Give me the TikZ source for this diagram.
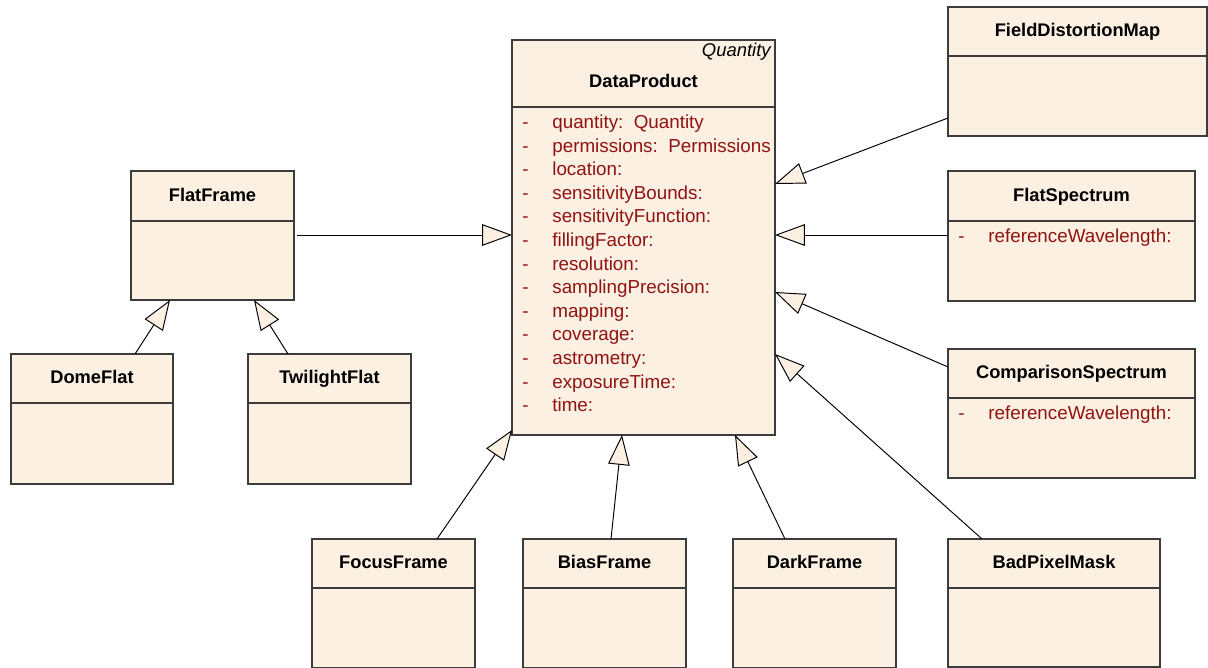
\documentclass[tikz,border=0pt]{standalone}
\usepackage{fontspec}
\setmainfont{Liberation Sans}
\usetikzlibrary{arrows.meta,calc}
\definecolor{classFill}{RGB}{251,240,226}
\definecolor{classBorder}{RGB}{60,60,60}
\definecolor{attrColor}{RGB}{145,18,18}
\newcommand{\pxUnit}{0.02cm}
\tikzstyle{diagram} = [x = 0.02cm, y = -0.02cm]
\tikzstyle{classBox} = [draw=classBorder, fill=classFill, line width=0.7pt, inner sep=0pt, outer sep=0pt, anchor=north west]
\tikzstyle{classLine} = [draw=classBorder, line width=0.7pt]
\tikzstyle{classTitle} = [font=\fontsize{10.4}{12}\selectfont\bfseries, anchor=base, inner sep=0pt]
\tikzstyle{attrText} = [font=\fontsize{10.7}{12}\selectfont, text=attrColor, anchor=base west, inner sep=0pt]
\tikzstyle{stereoText} = [font=\fontsize{10.5}{12}\selectfont\itshape, anchor=base east, inner sep=0pt]
\tikzstyle{generalization} = [line width=0.55pt, -{Triangle[length=17pt, width=12.3pt, fill=classFill, line width=0.55pt]}]
\newcommand{\umlClass}[7]{
  \node [classBox, minimum width={#4*\pxUnit}, minimum height={#5*\pxUnit}] (#1) at (#2,#3) {};
  \draw [classLine] ($(#1.north west)+(0,#6)$) -- ($(#1.north east)+(0,#6)$);
  \node [classTitle] (#1Title) at ($(#1.north)+(0,#6-19.5)$) {#7};
}
\newcommand{\attrList}[3]{
  \foreach \attr [count=\i] in {#3} {
    \node [attrText] (#1Dash\i) at ($(#1.north west)+(10,#2+21.5+23.6*\i-23.6)$) {-};
    \node [attrText] (#1Attr\i) at ($(#1.north west)+(40,#2+21.5+23.6*\i-23.6)$) {\attr};
  }
}

\begin{document}
\begin{tikzpicture}[diagram]
  \useasboundingbox (0,0) rectangle (1208,668);
  % the main class
  \umlClass{dataProduct}{512}{40}{263}{395}{67}{DataProduct}
  \node [stereoText] (dataProductStereo) at ($(dataProduct.north east)+(-4,17)$) {Quantity};
  \attrList{dataProduct}{67}{quantity:\ \ Quantity, permissions:\ \ Permissions, location:,
    sensitivityBounds:, sensitivityFunction:, fillingFactor:, resolution:,
    samplingPrecision:, mapping:, coverage:, astrometry:, exposureTime:, time:}

  % flats on the left
  \umlClass{flatFrame}{131}{171}{163}{129}{50}{FlatFrame}
  \umlClass{domeFlat}{11}{354}{162}{130}{49}{DomeFlat}
  \umlClass{twilightFlat}{248}{354}{163}{130}{49}{TwilightFlat}

  % frames below
  \umlClass{focusFrame}{312}{539}{163}{129}{49}{FocusFrame}
  \umlClass{biasFrame}{523}{539}{163}{129}{49}{BiasFrame}
  \umlClass{darkFrame}{733}{539}{163}{129}{49}{DarkFrame}
  \umlClass{badPixelMask}{948}{539}{212}{128}{49}{BadPixelMask}

  % right column
  \umlClass{fieldDistortionMap}{948}{7}{259}{129}{49}{FieldDistortionMap}
  \umlClass{flatSpectrum}{948}{171}{247}{130}{50}{FlatSpectrum}
  \attrList{flatSpectrum}{50}{referenceWavelength:}
  \umlClass{comparisonSpectrum}{948}{349}{247}{129}{49}{ComparisonSpectrum}
  \attrList{comparisonSpectrum}{49}{referenceWavelength:}

  % generalizations
  \draw [generalization] ($(fieldDistortionMap.north west)+(0,111)$) -- ($(dataProduct.north east)+(0,144)$);
  \draw [generalization] ($(flatSpectrum.north west)+(0,64)$) -- ($(dataProduct.north east)+(0,195)$);
  \draw [generalization] ($(comparisonSpectrum.north west)+(0,18)$) -- ($(dataProduct.north east)+(0,252)$);
  \draw [generalization] ($(badPixelMask.north west)+(34,0)$) -- ($(dataProduct.north east)+(0,314)$);
  \draw [generalization] ($(darkFrame.north west)+(52,0)$) -- ($(dataProduct.south east)+(-40,0)$);
  \draw [generalization] ($(biasFrame.north west)+(88,0)$) -- ($(dataProduct.south west)+(110,0)$);
  \draw [generalization] ($(focusFrame.north west)+(125,0)$) -- ($(dataProduct.south west)+(0,-5)$);
  \draw [generalization] ($(flatFrame.north east)+(3,64)$) -- ($(dataProduct.north west)+(0,195)$);
  \draw [generalization] ($(domeFlat.north west)+(124,0)$) -- ($(flatFrame.south west)+(39,0)$);
  \draw [generalization] ($(twilightFlat.north west)+(40,0)$) -- ($(flatFrame.south west)+(123,0)$);
\end{tikzpicture}
\end{document}
